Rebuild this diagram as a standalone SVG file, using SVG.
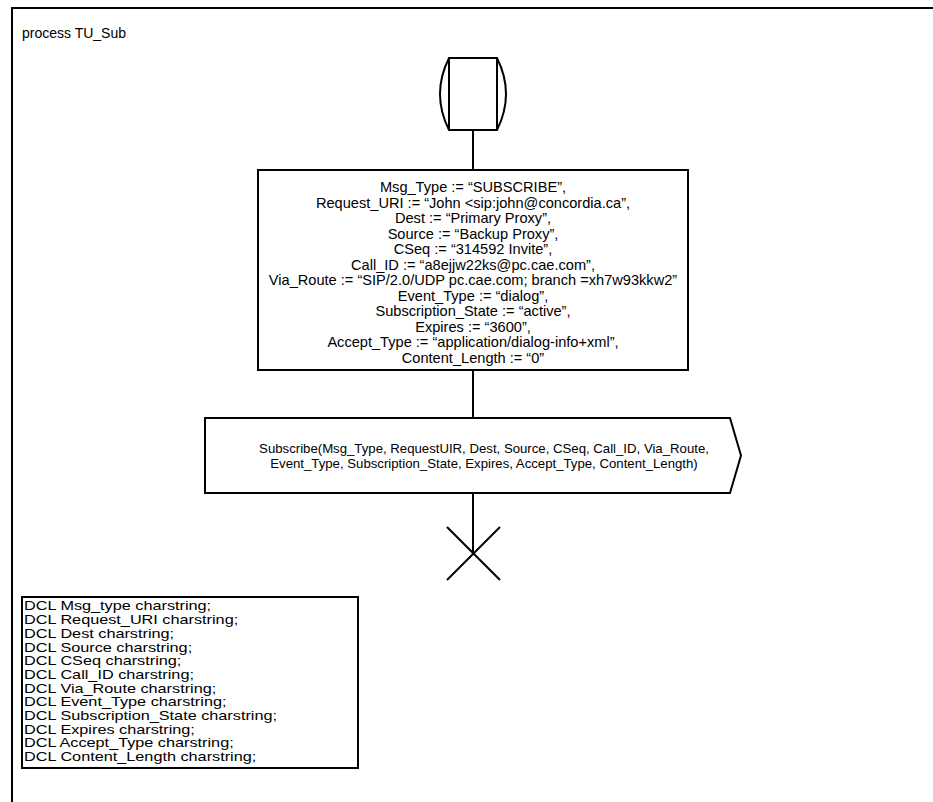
<svg xmlns="http://www.w3.org/2000/svg" width="933" height="802" viewBox="0 0 933 802">
  <style>
    .ln { fill: none; stroke: #000; stroke-width: 2; }
    .sym { fill: #fff; stroke: #000; stroke-width: 2; }
    text { font-family: "Liberation Sans", Arial, sans-serif; fill: #000; }
    .t { font-size: 14.6px; text-anchor: middle; }
    .s { font-size: 13.2px; text-anchor: middle; }
    .d { font-size: 13px; }
  </style>
  <rect width="933" height="802" fill="#fff"/>

  <!-- process frame -->
  <g id="frame">
    <path class="ln" d="M12,802 V8 H933"/>
    <text x="22" y="38" style="font-size:14px">process TU_Sub</text>
  </g>

  <!-- flow lines -->
  <g id="connectors" class="ln">
    <line x1="473" y1="130" x2="473" y2="170"/>
    <line x1="473" y1="370" x2="473" y2="418"/>
    <line x1="473" y1="493" x2="473" y2="553"/>
  </g>

  <!-- start symbol -->
  <g id="start">
    <path class="sym" d="M449,58 H497 Q515,94 497,130 H449 Q431,94 449,58 Z"/>
    <path class="ln" d="M449,58 V130 M497,58 V130"/>
  </g>

  <!-- task: assignments -->
  <g id="task">
    <rect class="sym" x="258" y="170" width="430" height="200"/>
    <text class="t" x="473" y="192">Msg_Type := “SUBSCRIBE”,</text>
    <text class="t" x="473" y="207.5">Request_URI := “John &lt;sip:john@concordia.ca”,</text>
    <text class="t" x="473" y="223">Dest := “Primary Proxy”,</text>
    <text class="t" x="473" y="238.5">Source := “Backup Proxy”,</text>
    <text class="t" x="473" y="254">CSeq := “314592 Invite”,</text>
    <text class="t" x="473" y="269.5">Call_ID := “a8ejjw22ks@pc.cae.com”,</text>
    <text class="t" x="473" y="285">Via_Route := “SIP/2.0/UDP pc.cae.com; branch =xh7w93kkw2”</text>
    <text class="t" x="473" y="300.5">Event_Type := “dialog”,</text>
    <text class="t" x="473" y="316">Subscription_State := “active”,</text>
    <text class="t" x="473" y="331.5">Expires := “3600”,</text>
    <text class="t" x="473" y="347">Accept_Type := “application/dialog-info+xml”,</text>
    <text class="t" x="473" y="362.5">Content_Length := “0”</text>
  </g>

  <!-- output signal -->
  <g id="output">
    <polygon class="sym" points="205,418 730,418 741,455.5 730,493 205,493"/>
    <text class="s" x="484" y="453">Subscribe(Msg_Type, RequestUIR, Dest, Source, CSeq, Call_ID, Via_Route,</text>
    <text class="s" x="484" y="468">Event_Type, Subscription_State, Expires, Accept_Type, Content_Length)</text>
  </g>

  <!-- stop -->
  <g id="stop">
    <path class="ln" d="M447,527 L500,580 M500,527 L447,580"/>
  </g>

  <!-- declarations (text set slightly wide) -->
  <g id="declarations">
    <rect class="sym" x="22" y="597" width="336" height="171"/>
    <g transform="translate(24,0) scale(1.25,1)">
      <text class="d" x="0" y="610.5">DCL Msg_type charstring;</text>
      <text class="d" x="0" y="624.2">DCL Request_URI charstring;</text>
      <text class="d" x="0" y="637.9">DCL Dest charstring;</text>
      <text class="d" x="0" y="651.6">DCL Source charstring;</text>
      <text class="d" x="0" y="665.3">DCL CSeq charstring;</text>
      <text class="d" x="0" y="679">DCL Call_ID charstring;</text>
      <text class="d" x="0" y="692.7">DCL Via_Route charstring;</text>
      <text class="d" x="0" y="706.4">DCL Event_Type charstring;</text>
      <text class="d" x="0" y="720.1">DCL Subscription_State charstring;</text>
      <text class="d" x="0" y="733.8">DCL Expires charstring;</text>
      <text class="d" x="0" y="747.5">DCL Accept_Type charstring;</text>
      <text class="d" x="0" y="761.2">DCL Content_Length charstring;</text>
    </g>
  </g>
</svg>
